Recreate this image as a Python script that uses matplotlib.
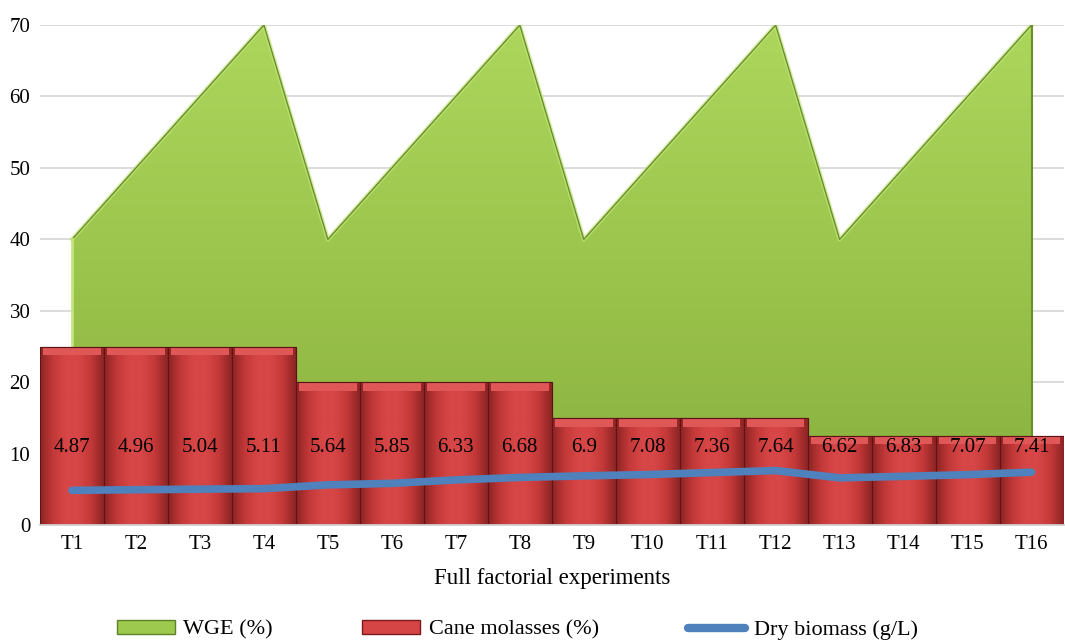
import numpy as np
import matplotlib.pyplot as plt
from matplotlib.colors import LinearSegmentedColormap
from matplotlib.lines import Line2D
from matplotlib.patches import Patch

plt.rcParams['font.family'] = ['Liberation Serif', 'DejaVu Serif']

trials = ['T1', 'T2', 'T3', 'T4', 'T5', 'T6', 'T7', 'T8',
          'T9', 'T10', 'T11', 'T12', 'T13', 'T14', 'T15', 'T16']
wge = [40, 50, 60, 70, 40, 50, 60, 70, 40, 50, 60, 70, 40, 50, 60, 70]
molasses = [25, 25, 25, 25, 20, 20, 20, 20, 15, 15, 15, 15, 12.5, 12.5, 12.5, 12.5]
biomass = [4.87, 4.96, 5.04, 5.11, 5.64, 5.85, 6.33, 6.68,
           6.9, 7.08, 7.36, 7.64, 6.62, 6.83, 7.07, 7.41]

x = np.arange(len(trials))

fig = plt.figure(figsize=(10.65, 6.42), dpi=100)
ax = fig.add_axes([0.0376, 0.182, 0.961, 0.779])

# WGE area with a vertical green gradient
green_cmap = LinearSegmentedColormap.from_list('g', ['#86ad3d', '#9bc44c', '#acd65c'])
area = ax.fill_between(x, 0, wge, color='none', zorder=1)
grad = np.linspace(0, 1, 256).reshape(-1, 1)
im = ax.imshow(grad, extent=[x[0], x[-1], 0, max(wge)], aspect='auto',
               cmap=green_cmap, origin='lower', zorder=1)
im.set_clip_path(area.get_paths()[0], ax.transData)
ax.plot(x, wge, color='#c2e57c', lw=3, alpha=0.7, zorder=1.1)
ax.plot(x, wge, color='#6a8f2a', lw=1.0, zorder=1.2)
ax.plot([x[-1], x[-1]], [0, wge[-1]], color='#6a8f2a', lw=1.5, zorder=1.2)
ax.plot([x[0], x[0]], [0, wge[0]], color='#c2e57c', lw=2, zorder=1.2)

# cane molasses bars with a bevelled look
red_cmap = LinearSegmentedColormap.from_list(
    'r', ['#8e2424', '#c23838', '#d74646', '#d74646', '#c23838', '#8e2424'])
bars = ax.bar(x, molasses, width=1.0, color='#d64444', edgecolor='#5e1414',
              lw=0.8, zorder=2)
hgrad = np.linspace(0, 1, 256).reshape(1, -1)
for b in bars:
    bx, by = b.get_x(), b.get_y()
    bw, bh = b.get_width(), b.get_height()
    bim = ax.imshow(hgrad, extent=[bx, bx + bw, by, by + bh], aspect='auto',
                    cmap=red_cmap, zorder=2.1)
    bim.set_clip_path(b)
bevel = 1.2
ax.bar(x, [bevel] * len(x), bottom=[m - bevel for m in molasses], width=0.9,
       color='#df5757', lw=0, zorder=2.2)
ax.bar(x, molasses, width=1.0, color='none', edgecolor='#5e1414', lw=0.8, zorder=2.3)

# dry biomass line
ax.plot(x, biomass, color='#4f81bd', lw=5.5, solid_capstyle='round', zorder=4)
for xi, v in zip(x, biomass):
    ax.text(xi, 10.8, f'{v:g}', ha='center', va='center', fontsize=15, zorder=5)

ax.set_xlim(-0.5, len(x) - 0.5)
ax.set_ylim(0, 70)
ax.set_yticks(range(0, 80, 10))
ax.set_xticks(x)
ax.set_xticklabels(trials)
ax.tick_params(length=0, labelsize=15)
ax.tick_params(axis='x', pad=7)
ax.tick_params(axis='y', pad=7)
ax.yaxis.grid(True, color='#d9d9d9', lw=1.3)
ax.set_axisbelow(True)
for s in ['top', 'right', 'left']:
    ax.spines[s].set_visible(False)
ax.spines['bottom'].set_color('#d0d0d0')
ax.spines['bottom'].set_linewidth(1.3)
ax.set_xlabel('Full factorial experiments', fontsize=16.5, labelpad=10)

handles = [
    Patch(facecolor='#9dc94f', edgecolor='#5f8228'),
    Patch(facecolor='#d64545', edgecolor='#7a1a1a'),
    Line2D([], [], color='#4f81bd', lw=6, solid_capstyle='round'),
]
fig.legend(handles, ['WGE (%)', 'Cane molasses (%)', 'Dry biomass (g/L)'],
           loc='lower center', bbox_to_anchor=(0.486, -0.028), ncol=3, frameon=False,
           handlelength=2.6, handleheight=0.6, handletextpad=0.4,
           columnspacing=4.0, fontsize=16)

fig.savefig('out.png', dpi=100)
